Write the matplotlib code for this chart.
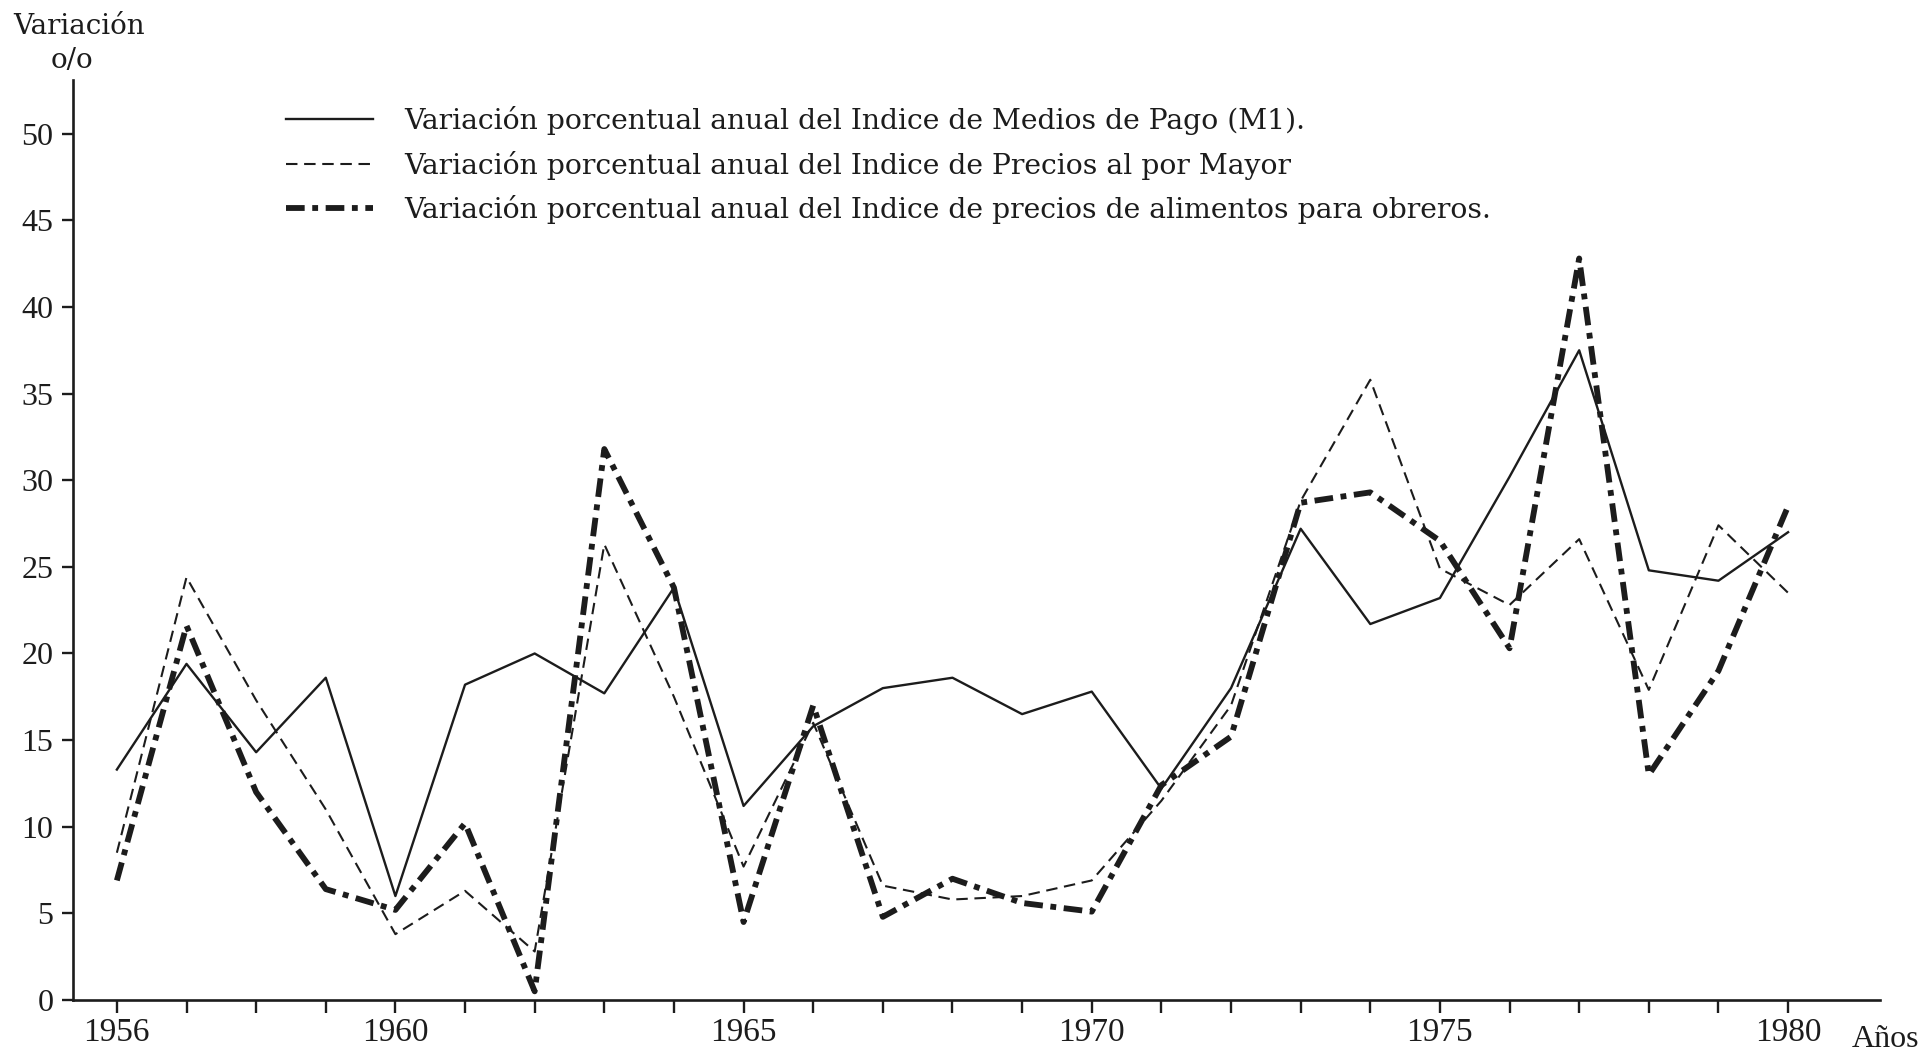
import matplotlib
matplotlib.use("Agg")
import matplotlib.pyplot as plt

years = list(range(1956, 1981))
medios_pago = [13.3, 19.4, 14.3, 18.6, 6.0, 18.2, 20.0, 17.7, 23.8, 11.2, 15.8, 18.0, 18.6,
               16.5, 17.8, 12.2, 18.0, 27.2, 21.7, 23.2, 30.2, 37.5, 24.8, 24.2, 27.0]
precios_mayor = [8.5, 24.4, 17.3, 11.0, 3.8, 6.3, 2.8, 26.3, 17.5, 7.7, 16.0, 6.6, 5.8,
                 6.0, 6.9, 11.5, 17.0, 28.8, 35.8, 24.9, 22.8, 26.6, 17.9, 27.4, 23.5]
alimentos = [6.9, 21.6, 12.0, 6.4, 5.2, 10.2, 0.5, 31.8, 23.8, 4.5, 17.0, 4.8, 7.0,
             5.6, 5.1, 12.4, 15.2, 28.7, 29.3, 26.5, 20.3, 42.8, 13.0, 19.0, 28.5]

labels = ["Variación porcentual anual del Indice de Medios de Pago (M1).",
          "Variación porcentual anual del Indice de Precios al por Mayor",
          "Variación porcentual anual del Indice de precios de alimentos para obreros."]
xtick_labels = {1956: "1956", 1960: "1960", 1965: "1965", 1970: "1970", 1975: "1975", 1980: "1980"}
yticks = [0, 5, 10, 15, 20, 25, 30, 35, 40, 45, 50]

plt.rcParams['font.family'] = ['Liberation Serif', 'DejaVu Serif']
ink = '#1c1c1c'
wide_serif = ['DejaVu Serif', 'Liberation Serif']

W, H = 1927, 1059
fig = plt.figure(figsize=(W / 100, H / 100), dpi=100)
fig.patch.set_facecolor('white')
ax = fig.add_axes([73 / W, (H - 1000) / H, (1880 - 73) / W, (1000 - 80) / H])

ax.plot(years, medios_pago, color=ink, lw=1.7, ls='-', label=labels[0])
ax.plot(years, precios_mayor, color=ink, lw=1.5, ls=(0, (5.5, 3.2)), label=labels[1])
ax.plot(years, alimentos, color=ink, lw=4.2, ls=(0, (3.2, 1.3, 1.0, 1.3)),
        solid_capstyle='butt', dash_capstyle='butt', label=labels[2])

ax.set_xlim(1955.37, 1981.32)
ax.set_ylim(0, 53.1)

for s in ['top', 'right']:
    ax.spines[s].set_visible(False)
for s in ['left', 'bottom']:
    ax.spines[s].set_linewidth(1.9)
    ax.spines[s].set_color(ink)

ax.set_xticks(years)
ax.set_xticklabels([xtick_labels.get(y, "") for y in years])
ax.set_yticks(yticks)
ax.set_yticklabels([str(v) for v in yticks])
ax.tick_params(axis='x', direction='out', length=9.5, width=1.7, pad=3, labelsize=24, colors=ink)
ax.tick_params(axis='y', direction='out', length=8, width=1.7, pad=6, labelsize=23, colors=ink)

fig.text(79 / W, 1 - 34 / H, "Variación", ha='center', va='baseline', fontsize=20,
         family=wide_serif, color=ink)
fig.text(72 / W, 1 - 68 / H, "o/o", ha='center', va='baseline', fontsize=20,
         family=wide_serif, color=ink)
fig.text(1852 / W, 1 - 1047 / H, "Años", ha='left', va='baseline', fontsize=23, color=ink)

leg = ax.legend(loc='upper left', bbox_to_anchor=(286 / W, 1 - 106 / H),
                bbox_transform=fig.transFigure, frameon=False,
                prop={'family': wide_serif, 'size': 20.3},
                handlelength=3.1, handletextpad=1.1, labelspacing=0.55,
                borderaxespad=0, borderpad=0)
for t in leg.get_texts():
    t.set_color(ink)

fig.savefig("out.png", dpi=100, facecolor='white')
